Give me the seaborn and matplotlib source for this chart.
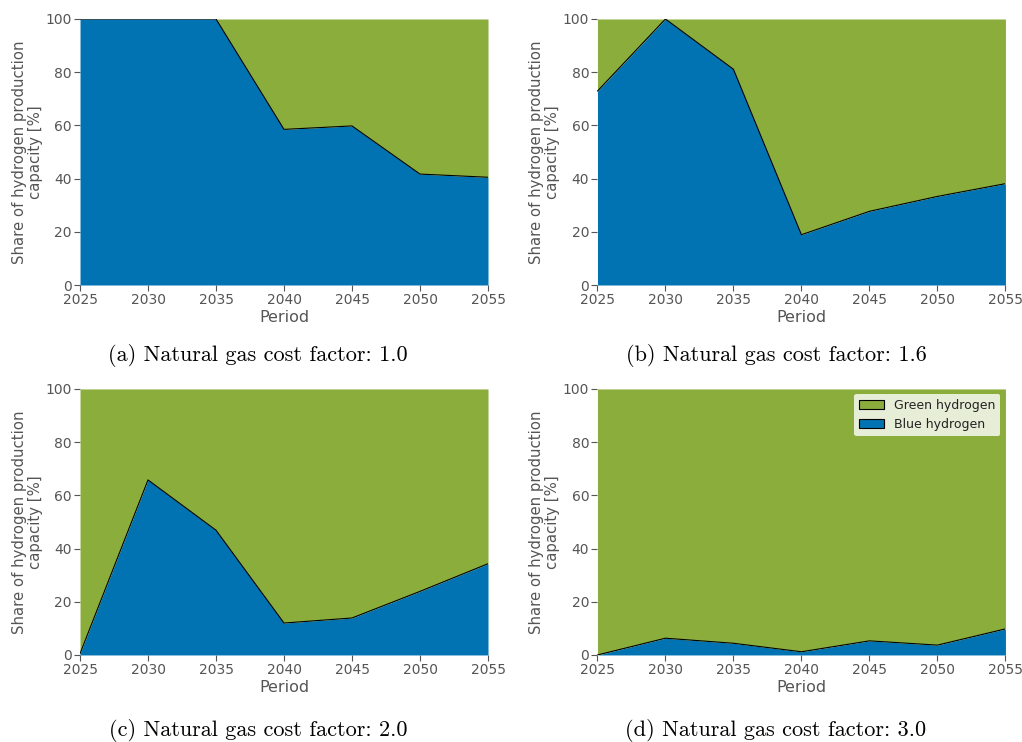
import numpy as np
import matplotlib
matplotlib.use("Agg")
import matplotlib.pyplot as plt
from matplotlib.patches import Patch
import seaborn as sns

periods = [2025, 2030, 2035, 2040, 2045, 2050, 2055]

blue_a = [100.0, 100.0, 100.0, 58.5, 59.8, 41.7, 40.5]
blue_b = [72.9, 100.0, 81.1, 18.9, 27.7, 33.3, 38.1]
blue_c = [0.5, 65.8, 46.9, 12.0, 13.9, 23.9, 34.3]
blue_d = [0.0, 6.3, 4.4, 1.2, 5.3, 3.7, 9.8]

captions = [
    "(a) Natural gas cost factor: 1.0",
    "(b) Natural gas cost factor: 1.6",
    "(c) Natural gas cost factor: 2.0",
    "(d) Natural gas cost factor: 3.0",
]
legend_labels = ["Green hydrogen", "Blue hydrogen"]

sns.set_theme(style="white")
plt.rcParams["font.family"] = ["DejaVu Sans"]

palette = {"Blue hydrogen": "#0173B2", "Green hydrogen": "#8AAD3C"}
label_color = "#555555"

fig = plt.figure(figsize=(10.22, 7.42), dpi=100)

# axes rectangles in figure fractions: left, bottom, width, height
boxes = [
    (0.0783, 0.6159, 0.3992, 0.3585),
    (0.5846, 0.6159, 0.3992, 0.3585),
    (0.0783, 0.1173, 0.3992, 0.3585),
    (0.5846, 0.1173, 0.3992, 0.3585),
]
caption_pos = [(258, 355), (776, 355), (258, 730), (776, 730)]

for i, (blue, box, cap) in enumerate(zip([blue_a, blue_b, blue_c, blue_d], boxes, captions)):
    ax = fig.add_axes(box)
    green = [100.0 - b for b in blue]
    ax.stackplot(periods, blue, green,
                 colors=[palette["Blue hydrogen"], palette["Green hydrogen"]],
                 linewidth=0)
    # boundary between the two shares
    sns.lineplot(x=periods, y=blue, ax=ax, color="black", linewidth=0.8, legend=False)
    ax.set_xlim(2025, 2055)
    ax.set_ylim(0, 100)
    ax.set_xticks(periods)
    ax.set_yticks([0, 20, 40, 60, 80, 100])
    for s in ax.spines.values():
        s.set_visible(False)
    ax.tick_params(axis="both", which="both", direction="out", length=4, width=0.8,
                   color=label_color, labelcolor=label_color, labelsize=10,
                   bottom=True, left=True, pad=2)
    ax.set_xlabel("Period", fontsize=11.5, color=label_color, labelpad=2)
    ax.set_ylabel("Share of hydrogen production\ncapacity [%]", fontsize=10.7,
                  color=label_color, labelpad=2, linespacing=1.05)
    fig.text(caption_pos[i][0] / 1022, 1 - caption_pos[i][1] / 742, cap,
             ha="center", va="center", fontsize=16, family="cmr10", color="black")
    if i == 3:
        handles = [
            Patch(facecolor=palette["Green hydrogen"], edgecolor="black", linewidth=0.8),
            Patch(facecolor=palette["Blue hydrogen"], edgecolor="black", linewidth=0.8),
        ]
        ax.legend(handles, legend_labels, loc="upper right",
                  fontsize=9, frameon=True, framealpha=0.8, facecolor="white",
                  edgecolor="none", borderpad=0.4, handlelength=2.0,
                  labelcolor="#222222", borderaxespad=0.4)

fig.savefig("out.png", dpi=100)
